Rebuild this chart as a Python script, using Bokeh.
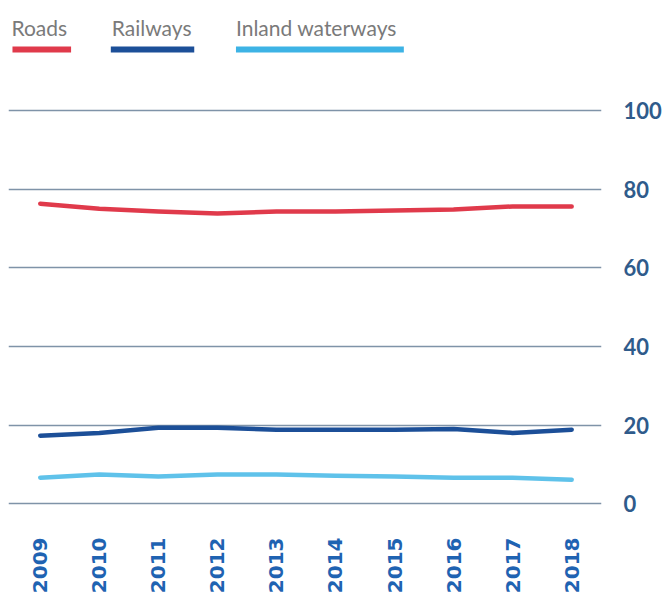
from bokeh.plotting import figure
from bokeh.models import Range1d, LinearAxis, FixedTicker, ColumnDataSource
from bokeh.core.properties import value
from bokeh.embed import file_html
from bokeh.resources import INLINE
import math

years = [2009, 2010, 2011, 2012, 2013, 2014, 2015, 2016, 2017, 2018]
roads = [76.3, 75.0, 74.3, 73.8, 74.3, 74.3, 74.6, 74.8, 75.6, 75.6]
railways = [17.3, 18.0, 19.3, 19.3, 18.8, 18.8, 18.8, 19.0, 18.0, 18.8]
inland = [6.6, 7.4, 6.9, 7.4, 7.4, 7.1, 6.9, 6.6, 6.6, 6.1]
series_names = ["Roads", "Railways", "Inland waterways"]
y_ticks = [0, 20, 40, 60, 80, 100]

colors = ["#e03a4b", "#1c4f98", "#5fc2ea"]
legend_colors = ["#e03a4b", "#1c4f98", "#3db3e5"]

p = figure(width=664, height=599,
           x_range=Range1d(2008.462, 2018.505), y_range=Range1d(-2, 128),
           output_backend="svg", toolbar_location=None, y_axis_location=None,
           min_border_left=8, min_border_right=59, min_border_top=0, min_border_bottom=88)
p.outline_line_color = None
p.background_fill_color = "white"
p.xgrid.visible = False

# right axis
yax = LinearAxis(ticker=FixedTicker(ticks=y_ticks))
yax.axis_line_color = None
yax.major_tick_line_color = None
yax.minor_tick_line_color = None
yax.major_label_standoff = 16
yax.major_label_text_font = "Lato"
yax.major_label_text_font_style = "bold"
yax.major_label_text_font_size = "22px"
yax.major_label_text_color = "#2f5b8b"
p.add_layout(yax, "right")

p.ygrid.ticker = FixedTicker(ticks=y_ticks)
p.ygrid.grid_line_color = "#7f93a8"
p.ygrid.grid_line_width = 1.5

xax = p.xaxis[0]
xax.ticker = FixedTicker(ticks=years)
xax.major_label_overrides = {y: str(y) for y in years}
xax.axis_line_color = None
xax.major_tick_line_color = None
xax.minor_tick_line_color = None
xax.major_label_orientation = math.pi / 2
xax.major_label_standoff = 20
xax.major_label_text_font = "DejaVu Sans"
xax.major_label_text_font_style = "bold"
xax.major_label_text_font_size = "20px"
xax.major_label_text_color = "#1f63b2"

src = ColumnDataSource(dict(year=years, roads=roads, railways=railways, inland=inland))
for col, c in zip(["roads", "railways", "inland"], colors):
    p.line("year", col, source=src, line_color=c, line_width=4.5,
           line_join="round", line_cap="round")

# legend in pixel coordinates
p.extra_x_ranges = {"px": Range1d(8, 605)}
p.extra_y_ranges = {"px": Range1d(511, 0)}
leg = ColumnDataSource(dict(
    name=series_names,
    tx=[11, 112, 237],
    x0=[12, 111, 237],
    x1=[71, 195, 406],
    ty=[27, 27, 27],
    ly=[49, 49, 49],
    color=legend_colors,
))
p.text(x="tx", y="ty", text="name", source=leg, x_range_name="px", y_range_name="px",
       text_font=value("Lato"), text_font_size="21px", text_color="#7a7a7a",
       text_baseline="middle", text_align="left")
p.segment(x0="x0", y0="ly", x1="x1", y1="ly", source=leg, x_range_name="px",
          y_range_name="px", line_color="color", line_width=6)

open("out.html", "w").write(file_html(p, INLINE))
